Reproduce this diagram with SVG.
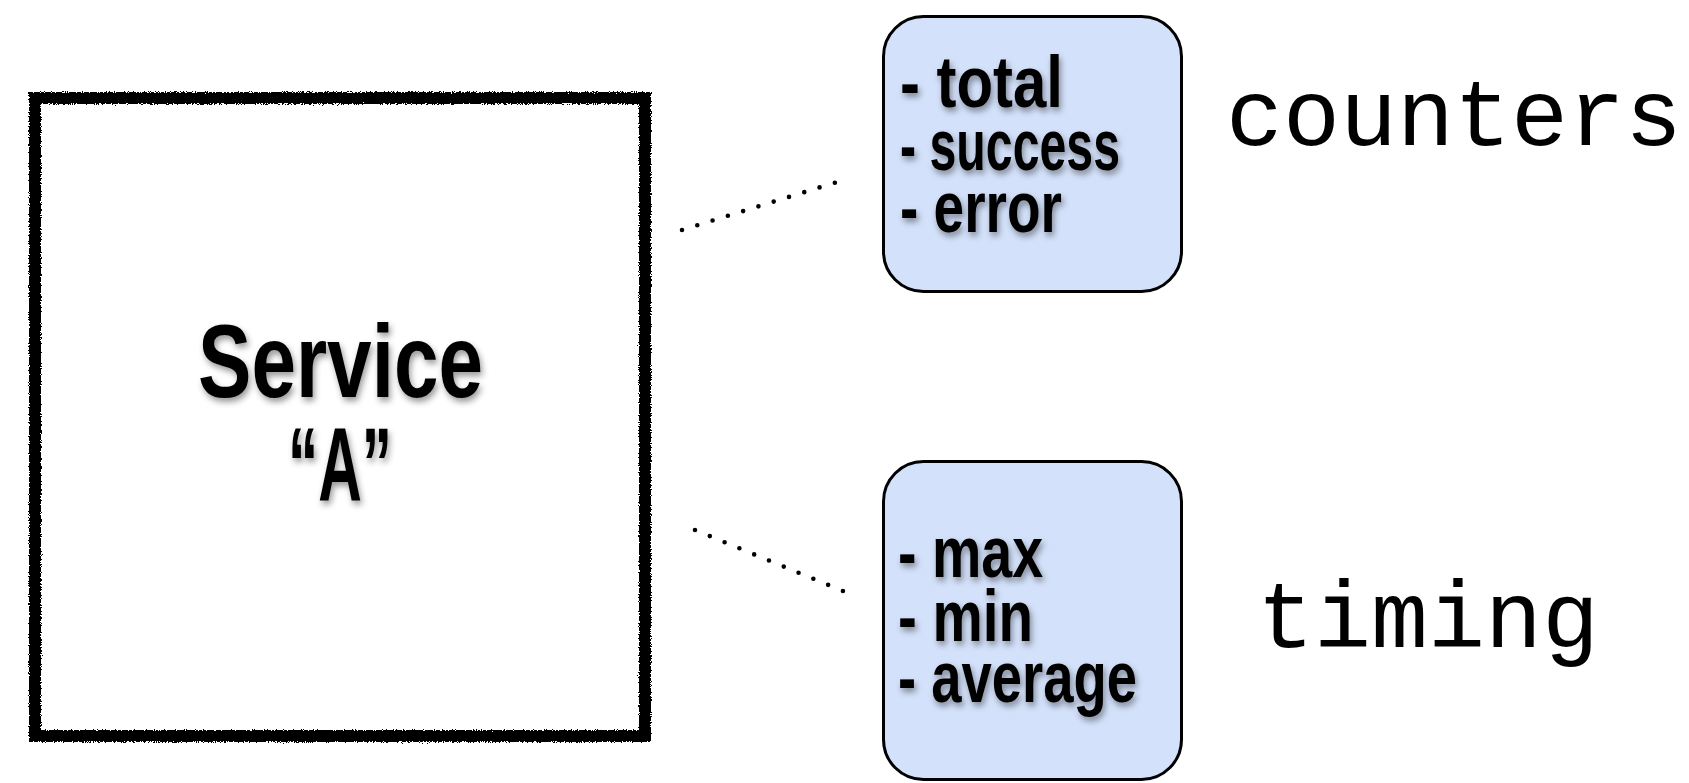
<svg xmlns="http://www.w3.org/2000/svg" width="1689" height="783" viewBox="0 0 1689 783">
<style>
.hand{font-family:"Liberation Sans Narrow","Liberation Sans","DejaVu Sans Condensed",sans-serif;font-weight:bold;fill:#000;}
.item{font-size:72px;}
.mono{font-family:"Liberation Mono","DejaVu Sans Mono",monospace;font-size:95px;fill:#000;}
.metric{fill:#d3e1fa;stroke:#000;stroke-width:3;}
.dots{fill:none;stroke:#000;stroke-width:4.6;stroke-linecap:round;stroke-dasharray:0 16;}
</style>
<defs>
<filter id="rough" x="-5%" y="-5%" width="110%" height="110%">
<feTurbulence type="fractalNoise" baseFrequency="0.9" numOctaves="2" seed="3" result="n"/>
<feDisplacementMap in="SourceGraphic" in2="n" scale="5" xChannelSelector="R" yChannelSelector="G"/>
</filter>
<filter id="shadow" x="-10%" y="-10%" width="120%" height="130%">
<feDropShadow dx="2" dy="4" stdDeviation="3" flood-color="#000" flood-opacity="0.4"/>
</filter>
</defs>
<rect width="1689" height="783" fill="#fff"/>
<g id="service">
<rect x="35" y="98" width="610" height="638" fill="none" stroke="#000" stroke-width="12" filter="url(#rough)"/>
<text class="hand" font-size="103" filter="url(#shadow)"><tspan x="198" y="397" textLength="285" lengthAdjust="spacingAndGlyphs">Service</tspan><tspan x="288" y="500" textLength="104" lengthAdjust="spacingAndGlyphs">“A”</tspan></text>
</g>
<g id="connectors">
<line class="dots" x1="682" y1="230" x2="850" y2="178"/>
<line class="dots" x1="695" y1="530" x2="843" y2="591"/>
</g>
<g id="counters-box">
<rect class="metric" x="883.5" y="16.5" width="298" height="275" rx="40" ry="40"/>
<text class="hand item" filter="url(#shadow)"><tspan x="900" y="107" textLength="163" lengthAdjust="spacingAndGlyphs">- total</tspan><tspan x="900" y="170" textLength="220" lengthAdjust="spacingAndGlyphs">- success</tspan><tspan x="900" y="232" textLength="162" lengthAdjust="spacingAndGlyphs">- error</tspan></text>
</g>
<g id="counters-label">
<text class="mono" x="1226" y="145">counters</text>
</g>
<g id="timing-box">
<rect class="metric" x="883.5" y="461.5" width="298" height="318" rx="40" ry="40"/>
<text class="hand item" filter="url(#shadow)"><tspan x="898" y="577" textLength="145" lengthAdjust="spacingAndGlyphs">- max</tspan><tspan x="898" y="641" textLength="135" lengthAdjust="spacingAndGlyphs">- min</tspan><tspan x="898" y="702" textLength="239" lengthAdjust="spacingAndGlyphs">- average</tspan></text>
</g>
<g id="timing-label">
<text class="mono" x="1257" y="647">timing</text>
</g>
</svg>
